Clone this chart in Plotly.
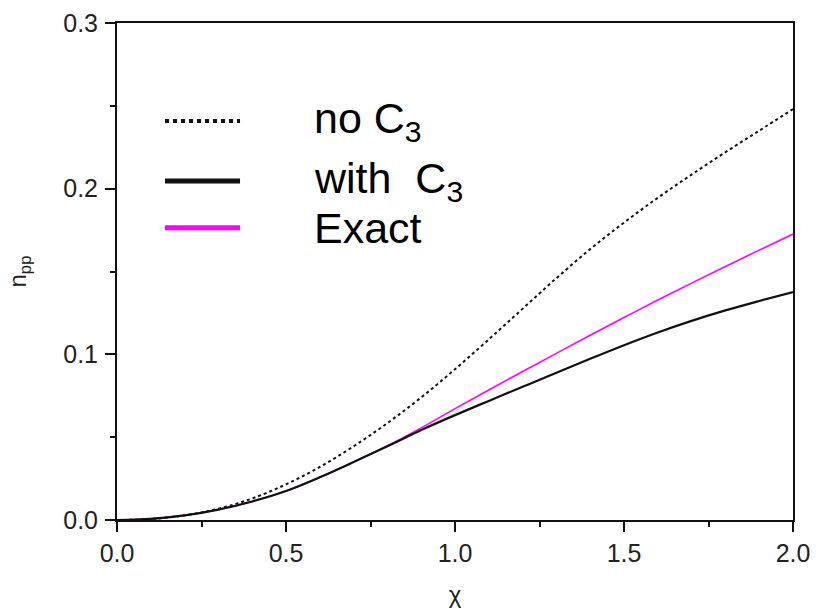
import plotly.graph_objects as go

# chi grid and the three n_pp curves
chi = [0.0, 0.1, 0.2, 0.3, 0.4, 0.5, 0.6, 0.7, 0.8, 0.9, 1.0,
       1.1, 1.2, 1.3, 1.4, 1.5, 1.6, 1.7, 1.8, 1.9, 2.0]

n_no_c3 = [0.0, 0.0006, 0.0028, 0.0068, 0.0130, 0.0215, 0.0320, 0.0445, 0.0585, 0.0740, 0.0910,
           0.1090, 0.1275, 0.1460, 0.1635, 0.1795, 0.1945, 0.2085, 0.2220, 0.2350, 0.2480]

n_with_c3 = [0.0, 0.0007, 0.0028, 0.0063, 0.0112, 0.0175, 0.0258, 0.0350, 0.0445, 0.0543, 0.0633,
             0.0719, 0.0804, 0.0889, 0.0973, 0.1055, 0.1132, 0.1202, 0.1265, 0.1322, 0.1376]

n_exact = [0.0, 0.0007, 0.0028, 0.0063, 0.0112, 0.0175, 0.0258, 0.0350, 0.0448, 0.0556, 0.0672,
           0.0785, 0.0896, 0.1006, 0.1115, 0.1222, 0.1328, 0.1430, 0.1530, 0.1629, 0.1726]

x_ticks = [0.0, 0.5, 1.0, 1.5, 2.0]
y_ticks = [0.0, 0.1, 0.2, 0.3]

legend_labels = ["no C<sub>3</sub>", "with  C<sub>3</sub>", "Exact"]

MAGENTA = "#ff00ff"
FONT = "Liberation Sans, Arial, sans-serif"

fig = go.Figure()
fig.add_trace(go.Scatter(x=chi, y=n_no_c3, mode="lines", line=dict(color="#111111", width=2, dash="dot", shape="spline")))
fig.add_trace(go.Scatter(x=chi, y=n_exact, mode="lines", line=dict(color=MAGENTA, width=1.6, shape="spline")))
fig.add_trace(go.Scatter(x=chi, y=n_with_c3, mode="lines", line=dict(color="#111111", width=2.2, shape="spline")))

# hand-drawn legend (long swatches, large text)
swatches = [
    dict(y=0.803, color="#111111", dash="dot", width=4),
    dict(y=0.682, color="#111111", dash="solid", width=5),
    dict(y=0.588, color=MAGENTA, dash="solid", width=5),
]
for sw, label in zip(swatches, legend_labels):
    fig.add_shape(type="line", xref="paper", yref="paper",
                  x0=0.071, x1=0.182, y0=sw["y"], y1=sw["y"],
                  line=dict(color=sw["color"], width=sw["width"], dash=sw["dash"]))
    fig.add_annotation(xref="paper", yref="paper", x=0.288, y=sw["y"],
                       xanchor="left", yanchor="middle", showarrow=False,
                       text=label, font=dict(family=FONT, size=43, color="#000000"))

axis_common = dict(
    showline=True, linecolor="#111111", linewidth=2, mirror=True,
    ticks="outside", ticklen=10, tickwidth=2, tickcolor="#111111",
    showgrid=False, zeroline=False, automargin=False,
    tickfont=dict(family=FONT, size=25, color="#222222"),
    tickformat=".1f",
)

fig.update_xaxes(**axis_common, range=[0, 2], tickvals=x_ticks,
                 minor=dict(ticks="outside", ticklen=5, tickwidth=2, tickcolor="#111111", dtick=0.25, tick0=0),
                 title=dict(text="χ", font=dict(family=FONT, size=24, color="#222222"), standoff=20))
fig.update_yaxes(**axis_common, range=[0, 0.3], tickvals=y_ticks, ticklabelstandoff=2,
                 minor=dict(ticks="outside", ticklen=5, tickwidth=2, tickcolor="#111111", dtick=0.05, tick0=0),
                 title=dict(text="n<sub>pp</sub>", font=dict(family=FONT, size=24, color="#222222"), standoff=30))

fig.update_layout(
    width=817, height=613,
    margin=dict(l=117, r=24, t=23, b=93),
    paper_bgcolor="white", plot_bgcolor="white",
    showlegend=False,
)

fig.write_html("out.html")
